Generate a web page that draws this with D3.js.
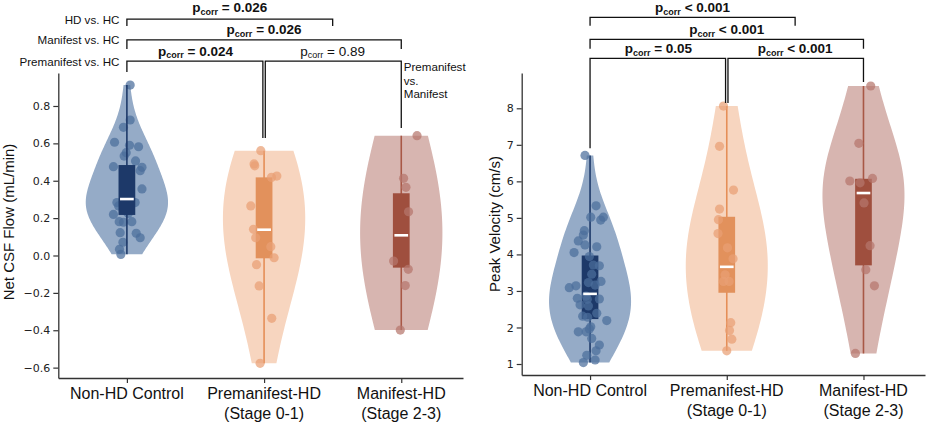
<!DOCTYPE html>
<html><head><meta charset="utf-8">
<script src="https://cdn.jsdelivr.net/npm/d3@7"></script>
<style>body{margin:0;background:#fff}svg{display:block}</style>
</head><body><svg id="c" width="930" height="423"></svg>
<script>
// ---------- DATA ----------
const categories = ["Non-HD Control", "Premanifest-HD", "Manifest-HD"];
const stages = ["", "(Stage 0-1)", "(Stage 2-3)"];

// Net CSF flow (mL/min)  (last 12 HC values sit behind the box)
const flowHC  = [0.912,0.725,0.686,0.606,0.59,0.582,0.55,0.532,0.506,0.475,0.472,0.454,0.356,0.283,0.283,0.265,0.22,0.181,0.178,0.181,0.122,0.119,0.095,0.071,0.033,0.006,
                 0.225,0.24,0.255,0.27,0.29,0.30,0.305,0.32,0.35,0.39,0.43,0.46];
const flowHCJitter = [0.024,0.024,-0.025,-0.09,0.019,0.085,-0.005,-0.02,0.063,-0.098,0.11,0.097,0.11,-0.073,0.06,-0.06,-0.098,-0.056,-0.025,0.036,-0.049,0.068,0.097,-0.029,-0.054,-0.044,
                 0.01,-0.015,0.02,-0.01,0.015,-0.02,0.0,0.018,-0.012,0.01,-0.018,0.012];
const flowPre = [0.561,0.49,0.48,0.425,0.418,0.265,0.14,0.095,0.047,-0.012,-0.049,-0.163,-0.336,-0.577];
const flowPreJitter = [-0.024,-0.073,-0.068,0.093,0.054,-0.097,-0.077,-0.061,0.049,0.073,-0.055,-0.036,0.056,-0.029];
const flowMan = [0.641,0.413,0.365,0.234,-0.03,-0.074,-0.161,-0.399];
const flowManJitter = [0.115,0.017,0.034,0.053,-0.056,0.051,0.029,-0.007];
const flowBox = [[0.217,0.302,0.484],[-0.015,0.138,0.418],[-0.065,0.108,0.333]]; // q1, median, q3
const flowTicks = [-0.6,-0.4,-0.2,0.0,0.2,0.4,0.6,0.8];

// Peak velocity (cm/s)
const velHC  = [6.71,5.33,5.02,4.94,5.02,4.65,4.53,4.37,4.26,4.21,4.05,3.94,3.71,3.69,3.46,3.26,3.23,3.16,3.09,3.14,2.86,2.80,2.77,2.78,2.62,2.59,2.31,2.28,2.39,2.19,1.88,1.88,2.02,1.96,1.70,1.52,1.36,1.24,1.04,1.11];
const velHCJitter = [-0.037,0.044,0.005,0.078,0.097,-0.042,-0.049,-0.086,-0.037,0.049,-0.117,-0.005,0.024,0.068,0.012,0.08,-0.012,0.037,-0.152,-0.103,-0.029,-0.093,-0.02,0.068,-0.073,-0.012,-0.054,-0.017,0.049,0.122,-0.086,-0.029,0.005,-0.005,0.012,0.068,0.044,-0.024,-0.049,0.037];
const velPre = [8.06,6.96,5.76,5.24,4.95,4.57,4.18,3.88,3.44,3.26,3.26,2.13,1.92,1.68,1.36];
const velPreJitter = [-0.024,-0.053,0.049,-0.053,-0.061,-0.064,0.005,0.046,-0.012,-0.024,0.017,0.029,0.02,0.037,0.0];
const velMan = [8.61,7.04,6.01,5.96,6.08,5.41,4.24,3.58,3.14,1.29];
const velManJitter = [0.053,-0.034,-0.1,-0.025,0.066,0.004,0.048,0.017,0.08,-0.059];
const velBox = [[2.23,2.92,3.97],[2.95,3.66,5.03],[3.70,5.68,6.07]];
const velTicks = [1,2,3,4,5,6,7,8];

// significance brackets: a,b = category positions, level/ends in data units
const flowBrackets = [
  {a:0, b:1,   level:1.040, endA:0.982, endB:0.629, text:"= 0.024", bold:true,  tv:1.069, ga:0, gb:-1},
  {a:1, b:2,   level:1.040, endA:0.629, endB:0.682, text:"= 0.89",  bold:false, tv:1.069, ga:1, gb:0},
  {a:0, b:2,   level:1.154, endA:1.105, endB:1.105, text:"= 0.026", bold:true,  tv:1.183, ga:0, gb:0},
  {a:0, b:1.5, level:1.265, endA:1.228, endB:1.228, text:"= 0.026", bold:true,  tv:1.301, ga:0, gb:0}
];
const velBrackets = [
  {a:0, b:1,   level:9.369, endA:6.905, endB:8.145, text:"= 0.05",  bold:true, tv:9.506, ga:0, gb:-1},
  {a:1, b:2,   level:9.369, endA:8.145, endB:8.72,  text:"< 0.001", bold:true, tv:9.506, ga:1, gb:0},
  {a:0, b:2,   level:9.889, endA:9.631, endB:9.631, text:"< 0.001", bold:true, tv:10.025, ga:0, gb:0},
  {a:0, b:1.5, level:10.491,endA:10.261,endB:10.261,text:"< 0.001", bold:true, tv:10.628, ga:0, gb:0}
];
const rowLabels = ["Premanifest vs. HC", "Manifest vs. HC", "HD vs. HC"];
const sideLabel = ["Premanifest", "vs.", "Manifest"];

// ---------- STYLE ----------
const pal = [
  {violin:"#95abc7", point:"#4b6e9b", box:"#1d3969", line:"#1d3969"},
  {violin:"#f7d5bf", point:"#e9a074", box:"#e2915c", line:"#e58f58"},
  {violin:"#d7b5b0", point:"#b5766c", box:"#9f4f3e", line:"#a85846"}
];
const FONT = "'Liberation Sans', Arial, Helvetica, sans-serif";
const TICKFONT = "'DejaVu Sans', sans-serif";
const svg = d3.select("#c");

function kde(vals, mult){
  const n = vals.length, sd = d3.deviation(vals);
  const bw = sd * Math.pow(n, -0.2) * mult;
  const lo = d3.min(vals), hi = d3.max(vals);
  const N = 120, out = [];
  for (let i=0;i<=N;i++){
    const v = lo + (hi-lo)*i/N;
    let s = 0; for (const d of vals){ const z=(v-d)/bw; s += Math.exp(-0.5*z*z); }
    out.push({v, d:s});
  }
  const mx = d3.max(out, o=>o.d); out.forEach(o=>o.d/=mx);
  return out;
}

function panel(cfg){
  const x = d3.scaleLinear().domain([-0.5, 2.45]).range(cfg.xr);
  const y = d3.scaleLinear().domain(cfg.yd).range(cfg.yr);
  const g = svg.append("g");

  cfg.groups.forEach((vals,i)=>{
    const dens = kde(vals, cfg.bw[i]);
    const area = d3.area().curve(d3.curveBasis)
      .y(o=>y(o.v)).x0(o=>x(i - 0.3*o.d)).x1(o=>x(i + 0.3*o.d));
    g.append("path").attr("d", area(dens)).attr("fill", pal[i].violin).attr("stroke","none");
  });
  const drawPoints = i => {
    g.selectAll(null).data(cfg.groups[i]).enter().append("circle")
      .attr("cx",(d,k)=>x(i + cfg.jit[i][k])).attr("cy",d=>y(d)).attr("r",4.6)
      .attr("fill",pal[i].point).attr("fill-opacity",0.72);
  };
  cfg.groups.forEach((vals,i)=>{
    if (!cfg.pointsOver[i]) drawPoints(i);
    g.append("line").attr("x1",x(i)).attr("x2",x(i))
      .attr("y1",y(d3.min(vals))).attr("y2",y(d3.max(vals)))
      .attr("stroke",pal[i].line).attr("stroke-width",1.6);
    const b = cfg.box[i];
    g.append("rect").attr("x", x(i-0.061)).attr("width", x(i+0.061)-x(i-0.061))
      .attr("y", y(b[2])).attr("height", y(b[0])-y(b[2])).attr("fill", pal[i].box);
    if (cfg.pointsOver[i]) drawPoints(i);
    g.append("line").attr("x1",x(i-0.05)).attr("x2",x(i+0.05))
      .attr("y1",y(b[1])).attr("y2",y(b[1])).attr("stroke","#fff").attr("stroke-width",2.6);
  });

  const ya = g.append("g").attr("transform",`translate(${cfg.xr[0]},0)`)
    .call(d3.axisLeft(y).tickValues(cfg.ticks).tickFormat(cfg.fmt).tickSize(5).tickSizeOuter(0).tickPadding(3));
  const xa = g.append("g").attr("transform",`translate(0,${cfg.yr[0]})`)
    .call(d3.axisBottom(x).tickValues([0,1,2]).tickFormat("").tickSize(5).tickSizeOuter(0));
  [ya,xa].forEach(a=>{
    a.select(".domain").attr("stroke","#333").attr("stroke-width",1.3);
    a.selectAll(".tick line").attr("stroke","#333").attr("stroke-width",1.2);
  });
  ya.selectAll("text").attr("font-family",TICKFONT).attr("font-size",11).attr("fill","#222");

  categories.forEach((c,i)=>{
    g.append("text").attr("x",x(i)).attr("y",cfg.yr[0]+20.5).attr("text-anchor","middle")
      .attr("font-family",FONT).attr("font-size",16).attr("fill","#111").text(c);
    if (stages[i]) g.append("text").attr("x",x(i)).attr("y",cfg.yr[0]+40.5).attr("text-anchor","middle")
      .attr("font-family",FONT).attr("font-size",16).attr("fill","#111").text(stages[i]);
  });
  g.append("text").attr("transform",`translate(${cfg.labX},${cfg.labY}) rotate(-90)`)
    .attr("text-anchor","middle").attr("font-family",FONT).attr("font-size",15).attr("fill","#111").text(cfg.label);

  cfg.brackets.forEach(br=>{
    const xa_ = x(br.a) + br.ga*1.2, xb_ = x(br.b) + br.gb*1.2;
    g.append("path").attr("d",`M${xa_},${y(br.endA)}V${y(br.level)}H${xb_}V${y(br.endB)}`)
      .attr("fill","none").attr("stroke","#111").attr("stroke-width",1.3);
    const t = g.append("text").attr("x",(x(br.a)+x(br.b))/2).attr("y",y(br.tv))
      .attr("text-anchor","middle").attr("font-family",FONT).attr("fill","#111")
      .attr("font-weight",br.bold?"bold":"normal").attr("font-size",13.5);
    t.append("tspan").text("p");
    t.append("tspan").attr("font-size",9).attr("dy",2.5).text("corr");
    t.append("tspan").attr("dy",-2.5).text(" " + br.text);
  });
  return {x,y,g};
}

const L = panel({
  xr:[58.3,463], yd:[-0.6555,0.9765], yr:[378,73], groups:[flowHC,flowPre,flowMan],
  jit:[flowHCJitter,flowPreJitter,flowManJitter], box:flowBox, ticks:flowTicks,
  fmt:d3.format(".1f"), bw:[1.25,1.5,1.8], pointsOver:[false,true,true], brackets:flowBrackets,
  label:"Net CSF Flow (mL/min)", labX:14, labY:222
});
const R = panel({
  xr:[521.7,925], yd:[0.699,8.966], yr:[375,73], groups:[velHC,velPre,velMan],
  jit:[velHCJitter,velPreJitter,velManJitter], box:velBox, ticks:velTicks,
  fmt:d3.format("d"), bw:[1.25,1.3,1.05], pointsOver:[true,true,true], brackets:velBrackets,
  label:"Peak Velocity (cm/s)", labX:499.5, labY:224
});

[flowBrackets[0].level, flowBrackets[2].level, flowBrackets[3].level].forEach((lv,i)=>{
  L.g.append("text").attr("x", L.x(0)-7.5).attr("y", L.y(lv)+4.5).attr("text-anchor","end")
    .attr("font-family",FONT).attr("font-size",11.6).attr("fill","#111").text(rowLabels[i]);
});
sideLabel.forEach((s,i)=>{
  L.g.append("text").attr("x", L.x(2)+2.5).attr("y", 71 + i*13.7)
    .attr("font-family",FONT).attr("font-size",11.6).attr("fill","#111").text(s);
});
</script></body></html>
